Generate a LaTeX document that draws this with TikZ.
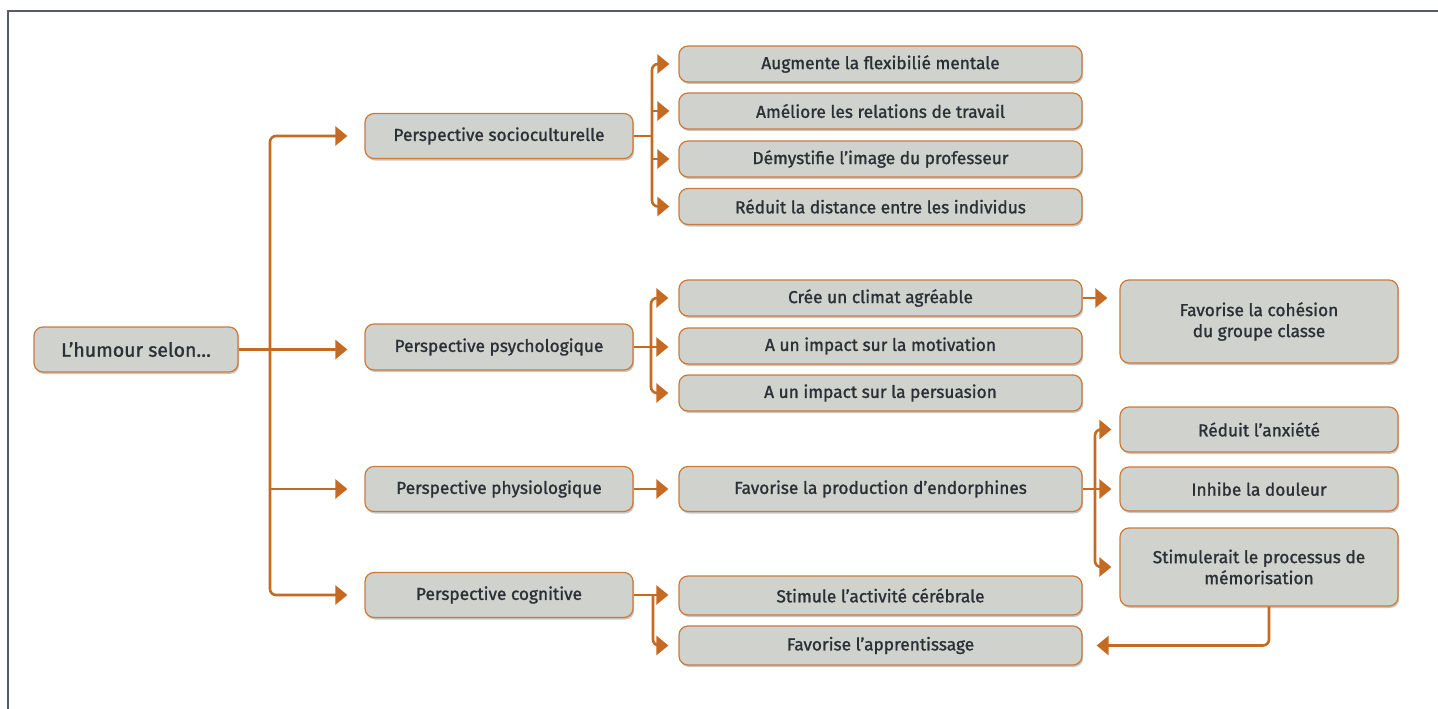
\documentclass[tikz,border=0pt]{standalone}
\usepackage{fontspec}
\setmainfont{Fira Sans}
\newfontfamily\boxfont{Fira Sans}[FakeBold=1.2]
\usetikzlibrary{arrows.meta,shadows}
\definecolor{orng}{HTML}{C56A22}
\definecolor{bord}{HTML}{CC7A3A}
\definecolor{boxf}{HTML}{D0D2CD}
\definecolor{txt}{HTML}{2B3036}
\definecolor{framec}{HTML}{555B62}
\tikzset{
  box/.style={draw=bord, line width=1.2pt, fill=boxf, rounded corners=9pt,
    text=txt, align=center, inner sep=2pt,
    font=\boxfont\fontsize{17.3}{21}\selectfont,
    drop shadow={shadow xshift=1.2pt, shadow yshift=-2pt, opacity=0.22, fill=black}},
  conn/.style={draw=orng, line width=2.6pt, rounded corners=6pt},
  arr/.style={conn, -{Triangle[length=12pt,width=19pt]}},
}
\begin{document}
\begin{tikzpicture}[x=1pt,y=-1pt]
\useasboundingbox (0,0) rectangle (1438,709);
\draw[framec, line width=2pt] (8,709) -- (8,11.5) -- (1438,11.5);

% nodes
\node[box, minimum width=204pt, minimum height=45pt, font=\boxfont\fontsize{19.5}{23}\selectfont] (root) at (136,349.5) {L’humour selon…};
\node[box, minimum width=268pt, minimum height=45pt] (soc) at (499,136) {Perspective socioculturelle};
\node[box, minimum width=268pt, minimum height=46pt] (psy) at (499,347) {Perspective psychologique};
\node[box, minimum width=268pt, minimum height=45pt] (phy) at (499,489) {Perspective physiologique};
\node[box, minimum width=268pt, minimum height=45pt] (cog) at (499,595) {Perspective cognitive};

\node[box, minimum width=403pt, minimum height=36pt] (aug) at (880.5,64) {Augmente la flexibilié mentale};
\node[box, minimum width=403pt, minimum height=36pt] (ame) at (880.5,111) {Améliore les relations de travail};
\node[box, minimum width=403pt, minimum height=36pt] (dem) at (880.5,159) {Démystifie l’image du professeur};
\node[box, minimum width=403pt, minimum height=36pt] (red) at (880.5,206.5) {Réduit la distance entre les individus};
\node[box, minimum width=403pt, minimum height=36pt] (cli) at (880.5,298) {Crée un climat agréable};
\node[box, minimum width=403pt, minimum height=36pt] (mot) at (880.5,346) {A un impact sur la motivation};
\node[box, minimum width=403pt, minimum height=36pt] (per) at (880.5,393) {A un impact sur la persuasion};
\node[box, minimum width=403pt, minimum height=45pt] (pro) at (880.5,489) {Favorise la production d’endorphines};
\node[box, minimum width=403pt, minimum height=39pt] (stim) at (880.5,595.5) {Stimule l’activité cérébrale};
\node[box, minimum width=403pt, minimum height=39pt] (app) at (880.5,645.5) {Favorise l’apprentissage};

\node[box, minimum width=278pt, minimum height=83pt] (coh) at (1259,321.5) {Favorise la cohésion\\du groupe classe};
\node[box, minimum width=278pt, minimum height=45pt] (anx) at (1259,429.5) {Réduit l’anxiété};
\node[box, minimum width=278pt, minimum height=44pt] (inh) at (1259,489) {Inhibe la douleur};
\node[box, minimum width=278pt, minimum height=78pt] (mem) at (1259,567) {Stimulerait le processus de\\mémorisation};

% trunk
\coordinate (tk) at (270,349.5);
\draw[arr, shorten >=17pt] (root.east) -- (root.east -| psy.west);
\draw[arr, shorten >=17pt] (tk) |- (soc.west);
\draw[arr, shorten >=17pt] (tk) |- (cog.west);
\draw[arr, shorten >=17pt] (tk |- phy.west) -- (phy.west);

% socioculturelle
\coordinate (s1) at (652,136);
\draw[conn] (soc.east) -- (s1);
\draw[arr, shorten >=9pt] (s1) |- (aug.west);
\draw[arr, shorten >=9pt] (s1) |- (red.west);
\draw[arr, shorten >=9pt] (s1 |- ame.west) -- (ame.west);
\draw[arr, shorten >=9pt] (s1 |- dem.west) -- (dem.west);

% psychologique
\coordinate (p1) at (651,347);
\draw[arr, shorten >=10pt] (psy.east) -- (psy.east -| mot.west);
\draw[arr, shorten >=10pt] (p1) |- (cli.west);
\draw[arr, shorten >=10pt] (p1) |- (per.west);
\draw[arr, shorten >=12pt] (cli.east) -- (cli.east -| coh.west);

% physiologique
\draw[arr, shorten >=10pt] (phy.east) -- (pro.west);
\coordinate (q1) at (1095,489);
\draw[arr, shorten >=8pt] (pro.east) -- (inh.west);
\draw[arr, shorten >=8pt] (q1) |- (anx.west);
\draw[arr, shorten >=8pt] (q1) |- (mem.west);

% cognitive
\coordinate (c1) at (653,595.5);
\draw[arr, shorten >=10pt] (cog.east) -- (cog.east -| stim.west);
\draw[arr, shorten >=10pt] (c1) |- (app.west);
\draw[arr, shorten >=14pt] ([xshift=10pt]mem.south) |- (app.east);
\end{tikzpicture}
\end{document}
